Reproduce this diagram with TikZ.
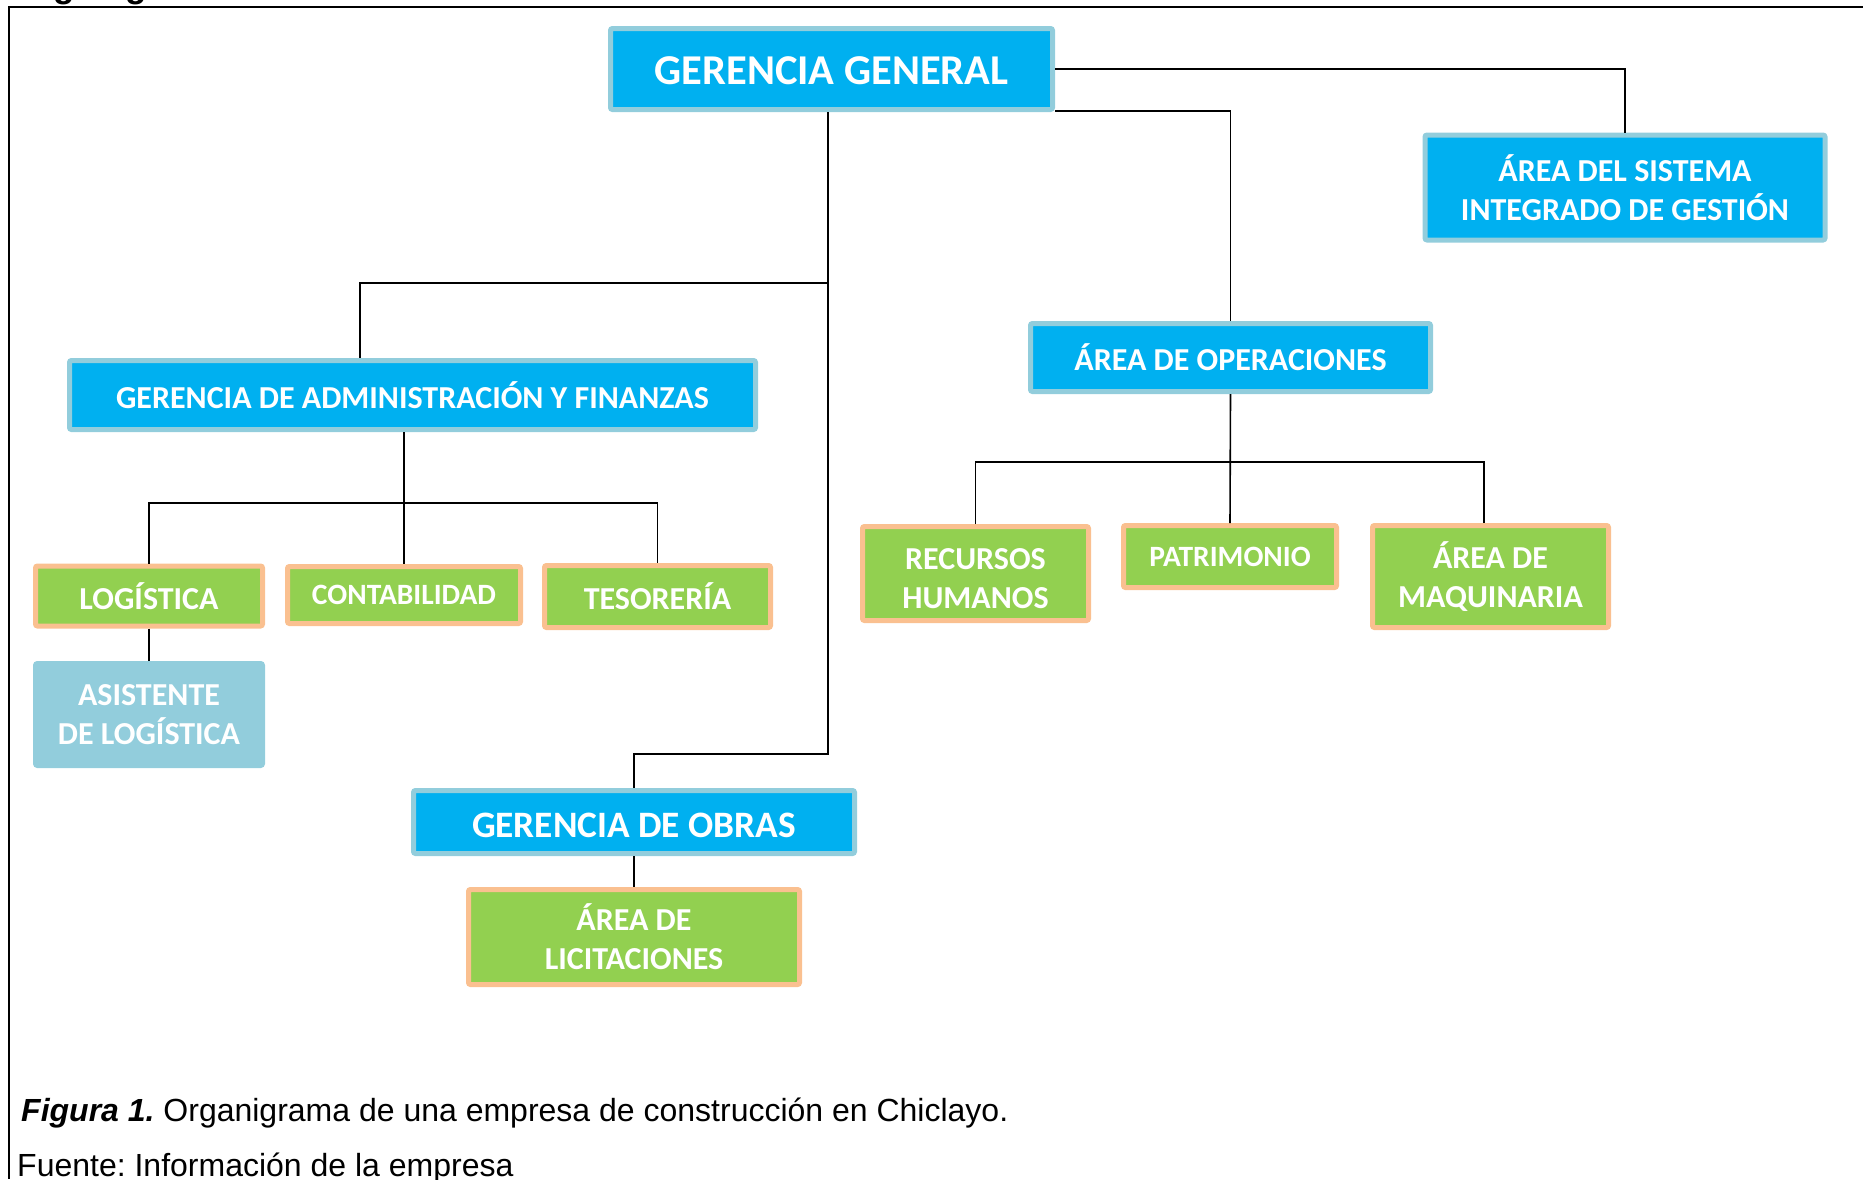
\documentclass[tikz,border=0pt]{standalone}
\usepackage{fontspec}
\setmainfont{Liberation Sans}
\newfontfamily\boxfont{Carlito}
\definecolor{cblue}{HTML}{00B0F0}
\definecolor{cblueb}{HTML}{92CDDC}
\definecolor{cgreen}{HTML}{92D050}
\definecolor{corange}{HTML}{FAC090}
\newcommand{\lowertext}[2]{\raisebox{-#1}[\height][\depth]{#2}}
\begin{document}
\frenchspacing
\begin{tikzpicture}[x=1pt,y=-1pt,
  boxbase/.style={line width=5pt, rounded corners=2pt, text=white, align=center, inner sep=0pt},
  bluebox/.style={boxbase, fill=cblue, draw=cblueb},
  greenbox/.style={boxbase, fill=cgreen, draw=corange},
  asistbox/.style={boxbase, fill=cblueb, draw=cblueb},
  fs/.style={font=\boxfont\bfseries\fontsize{#1}{39}\selectfont},
  conn/.style={line width=1.6pt, black},
  frame/.style={line width=2pt, black}]
\useasboundingbox (0,0) rectangle (1863,1179);
\clip (0,0) rectangle (1863,1179);
% cut-off heading
\node[anchor=base west, inner sep=0pt, font=\bfseries\fontsize{35}{40}\selectfont] (head) at (12,-3) {Organigrama};
% frame
\draw[frame] (1863,7) -- (9,7) -- (9,1179);
% boxes
\node[bluebox, fs=42.5, minimum width=442pt, minimum height=81pt] (GG) at (831.5,69) {\lowertext{1.5pt}{GERENCIA GENERAL}};
\node[bluebox, fs=32, minimum width=400pt, minimum height=105pt] (SIG) at (1625,187.5) {ÁREA DEL SISTEMA\\INTEGRADO DE GESTIÓN};
\node[bluebox, fs=32, minimum width=400pt, minimum height=68pt] (OPER) at (1230.5,357.5) {ÁREA DE OPERACIONES};
\node[bluebox, fs=32, minimum width=686pt, minimum height=69pt] (ADM) at (412.5,395) {GERENCIA DE ADMINISTRACIÓN Y FINANZAS};
\node[greenbox, fs=32, minimum width=227pt, minimum height=60pt] (LOG) at (149,596) {LOGÍSTICA};
\node[greenbox, fs=29.5, minimum width=233pt, minimum height=57pt] (CONT) at (404,595) {CONTABILIDAD};
\node[greenbox, fs=32, minimum width=226pt, minimum height=62pt] (TES) at (657.5,596.5) {TESORERÍA};
\node[asistbox, fs=32, minimum width=227pt, minimum height=102pt] (ASIST) at (149,714.5) {ASISTENTE\\DE LOGÍSTICA};
\node[greenbox, fs=32, minimum width=226pt, minimum height=94pt] (RH) at (975.5,573.5) {\lowertext{5pt}{RECURSOS}\\\lowertext{5pt}{HUMANOS}};
\node[greenbox, fs=29.5, minimum width=213pt, minimum height=62pt] (PAT) at (1230,556.5) {PATRIMONIO};
\node[greenbox, fs=32, minimum width=236pt, minimum height=102pt] (MAQ) at (1490.5,576.5) {ÁREA DE\\MAQUINARIA};
\node[bluebox, fs=37.3, minimum width=441pt, minimum height=63pt] (OBRAS) at (634,822) {\lowertext{3.5pt}{GERENCIA DE OBRAS}};
\node[greenbox, fs=32, minimum width=331pt, minimum height=95pt] (LIC) at (634,937) {ÁREA DE\\LICITACIONES};
% junction coordinates
\coordinate (jobras) at (828,754);
\coordinate (jadm) at (828,283);
\coordinate (adm1) at (360,283);
\coordinate (jadmc) at (404,503);
\coordinate (joper) at (1230,462);
\coordinate (maq1) at (1484,462);
% connectors
\draw[conn] (GG.east) -| (SIG.north);
\draw[conn] ([yshift=1pt]GG.south east) -| (OPER.north);
\draw[conn] (GG.south -| jobras) -- (jobras) -| (OBRAS.north);
\draw[conn] (jadm) -- (adm1) -- (adm1 |- ADM.north);
\draw[conn] (ADM.south -| jadmc) -- (jadmc) -- (CONT.north);
\draw[conn] (LOG.north) |- (jadmc) -| (TES.north);
\draw[conn] (LOG.south) -- (ASIST.north);
\draw[conn] (OPER.south) -- (PAT.north);
\draw[conn] (RH.north) |- (joper) -- (maq1) -- (maq1 |- MAQ.north);
\draw[conn] (OBRAS.south) -- (LIC.north);
% caption
\node[anchor=base west, inner sep=0pt, font=\fontsize{32}{37}\selectfont] (cap) at (21,1121) {\textbf{\textit{Figura 1.}} Organigrama de una empresa de construcción en Chiclayo.};
\node[anchor=base west, inner sep=0pt, font=\fontsize{32}{37}\selectfont] (src) at (17,1176) {Fuente: Información de la empresa};
\end{tikzpicture}
\end{document}
